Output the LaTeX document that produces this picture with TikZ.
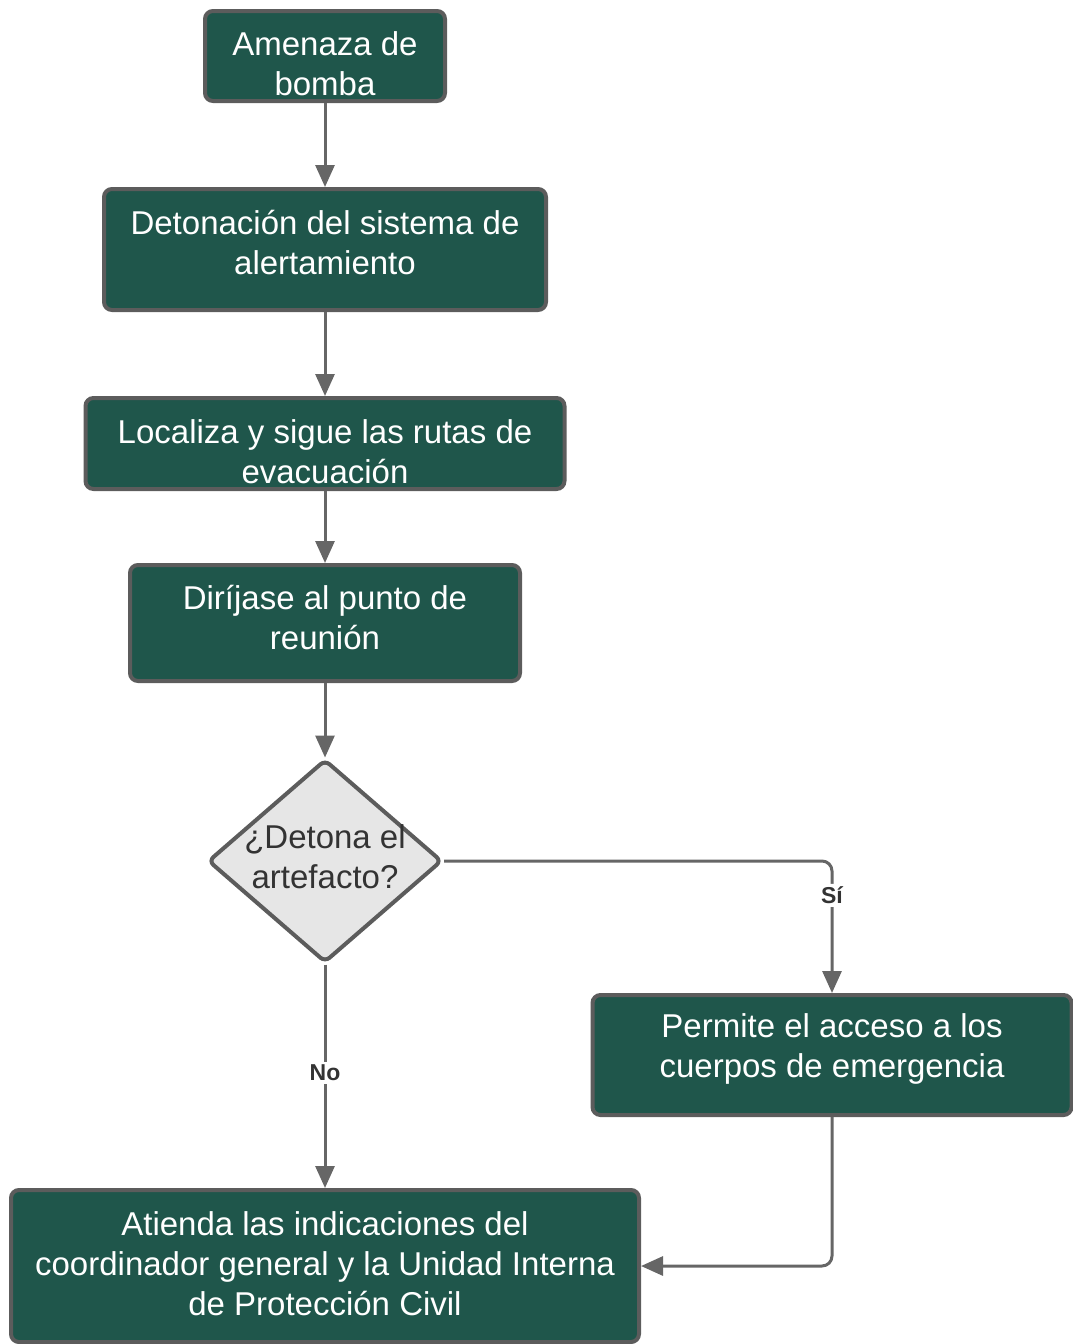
\documentclass[tikz,border=0pt]{standalone}
\usepackage{fontspec}
\setmainfont{Liberation Sans}
\usetikzlibrary{shapes.geometric,arrows.meta}
\definecolor{boxgreen}{HTML}{1F564B}
\definecolor{boxedge}{HTML}{5C5C5C}
\definecolor{linegray}{HTML}{666666}
\definecolor{decfill}{HTML}{E6E6E6}
\definecolor{labeltext}{HTML}{333333}
\tikzset{
  stepbox/.style={draw=boxedge, line width=4pt, fill=boxgreen, rounded corners=8pt,
    inner sep=0pt},
  steptext/.style={text=white, align=center, inner sep=0pt,
    font=\fontsize{33}{40}\selectfont},
  decision/.style={diamond, draw=boxedge, line width=4pt, fill=decfill, rounded corners=6pt,
    inner sep=0pt},
  dectext/.style={text=labeltext, align=center, inner sep=0pt,
    font=\fontsize{33}{40}\selectfont},
  flow/.style={draw=linegray, line width=3pt, -{Triangle[length=22pt,width=19pt]}},
  branch/.style={fill=white, text=labeltext, inner sep=3pt,
    font=\fontsize{23}{26}\selectfont\bfseries}
}
\begin{document}
\begin{tikzpicture}[x=1pt,y=-1pt]
\useasboundingbox (0,0) rectangle (1072,1344);
% boxes
\node[stepbox, minimum width=240, minimum height=90] (threat) at (325,56) {};
\node[stepbox, minimum width=442, minimum height=121] (alarm) at (325,249.5) {};
\node[stepbox, minimum width=479, minimum height=91] (routes) at (325,443.5) {};
\node[stepbox, minimum width=390, minimum height=116] (meet) at (325,623) {};
\node[decision, minimum width=234, minimum height=203] (detona) at (325,861) {};
\node[stepbox, minimum width=479, minimum height=120] (access) at (832,1055) {};
\node[stepbox, minimum width=628, minimum height=152] (attend) at (325,1266) {};
% box texts
\node[steptext] (threat-t) at (325,64) {Amenaza de\\bomba};
\node[steptext] (alarm-t) at (325,243) {Detonación del sistema de\\alertamiento};
\node[steptext] (routes-t) at (325,452) {Localiza y sigue las rutas de\\evacuación};
\node[steptext] (meet-t) at (325,618) {Diríjase al punto de\\reunión};
\node[dectext] (detona-t) at (325,857) {¿Detona el\\artefacto?};
\node[steptext] (access-t) at (832,1049) {Permite el acceso a los\\cuerpos de emergencia};
\node[steptext] (attend-t) at (325,1264) {Atienda las indicaciones del\\coordinador general y la Unidad Interna\\de Protección Civil};
% connectors
\draw[flow] (threat) -- (alarm);
\draw[flow] (alarm) -- (routes);
\draw[flow] (routes) -- (meet);
\draw[flow] (meet) -- (detona);
\draw[flow, rounded corners=10pt] (detona.east) -| node[branch, pos=0.63] {Sí} (access.north);
\draw[flow] (detona.south) -- node[branch, pos=0.485] {No} (attend.north);
\draw[flow, rounded corners=10pt] (access.south) |- (attend.east);
\end{tikzpicture}
\end{document}
